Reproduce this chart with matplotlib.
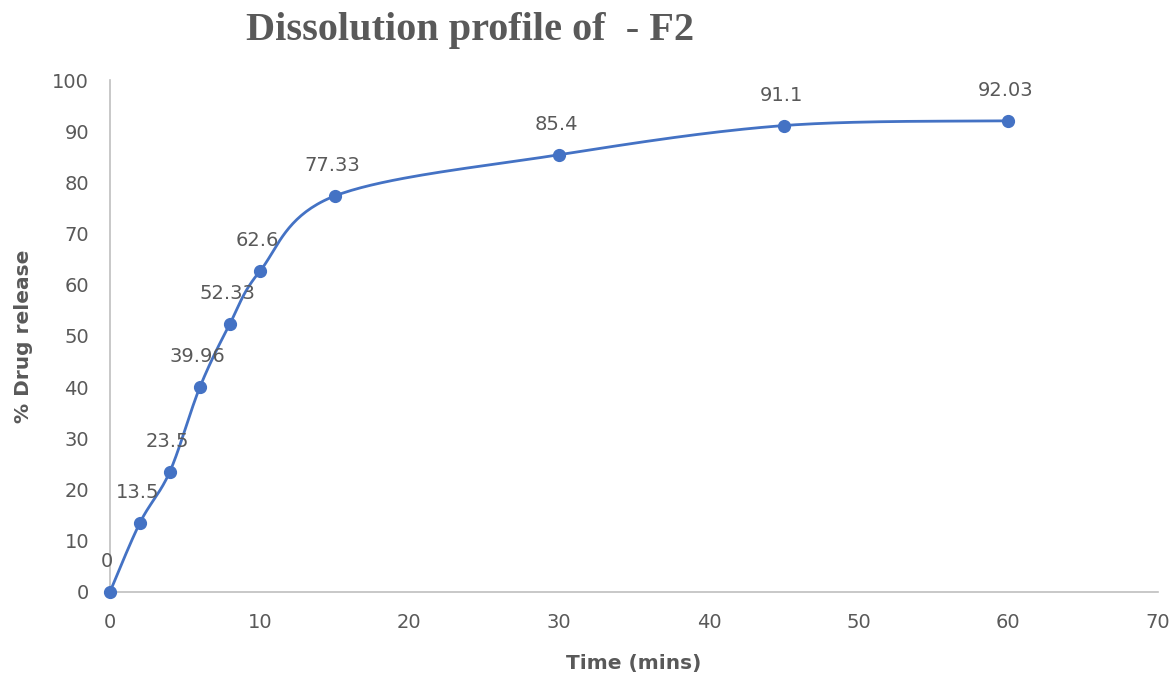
import matplotlib.pyplot as plt
import numpy as np

# Dissolution data for formulation F2
time_min = [0, 2, 4, 6, 8, 10, 15, 30, 45, 60]
release_pct = [0, 13.5, 23.5, 39.96, 52.33, 62.6, 77.33, 85.4, 91.1, 92.03]
x_ticks = [0, 10, 20, 30, 40, 50, 60, 70]
y_ticks = [0, 10, 20, 30, 40, 50, 60, 70, 80, 90, 100]

blue = '#4472C4'
grey = '#595959'

fig = plt.figure(figsize=(11.75, 6.78), dpi=100)
ax = fig.add_axes([0.0936, 0.127, 0.892, 0.755])
ax.set_xlim(0, 70)
ax.set_ylim(0, 100)


def smooth_curve(ax, xs, ys, n=40):
    # Excel-style smoothed line: cubic Bezier through points, built in display space
    pts = ax.transData.transform(np.column_stack([xs, ys]))
    p = np.vstack([pts[0], pts, pts[-1]])
    out = []
    t = np.linspace(0, 1, n)[:, None]
    for i in range(1, len(p) - 2):
        p0, p1 = p[i], p[i + 1]
        c1 = p0 + (p[i + 1] - p[i - 1]) / 6
        c2 = p1 - (p[i + 2] - p[i]) / 6
        seg = ((1 - t) ** 3) * p0 + 3 * ((1 - t) ** 2) * t * c1 \
            + 3 * (1 - t) * t ** 2 * c2 + t ** 3 * p1
        out.append(seg)
    out = np.vstack(out)
    return ax.transData.inverted().transform(out)


curve = smooth_curve(ax, time_min, release_pct)
ax.plot(curve[:, 0], curve[:, 1], color=blue, lw=2.0, zorder=2, clip_on=False)
ax.plot(time_min, release_pct, 'o', color=blue, ms=8.5, zorder=3, clip_on=False)

for x, y in zip(time_min, release_pct):
    ax.annotate(f'{y:g}', (x, y), xytext=(-2, 22), textcoords='offset points',
                ha='center', va='center', fontsize=14, color=grey,
                family='DejaVu Sans')

ax.set_xticks(x_ticks)
ax.set_yticks(y_ticks)
ax.tick_params(length=0, labelsize=14, labelcolor=grey, pad=15)
for lbl in ax.get_xticklabels() + ax.get_yticklabels():
    lbl.set_family('DejaVu Sans')

for s in ['top', 'right']:
    ax.spines[s].set_visible(False)
for s in ['left', 'bottom']:
    ax.spines[s].set_color('#BFBFBF')
    ax.spines[s].set_linewidth(1.2)

ax.set_xlabel('Time (mins)', fontsize=14.5, fontweight='bold', color=grey,
              family='DejaVu Sans', labelpad=16)
ax.set_ylabel('% Drug release', fontsize=14.5, fontweight='bold', color=grey,
              family='DejaVu Sans', labelpad=14)

fig.text(0.4, 0.955, 'Dissolution profile of  - F2', ha='center', va='center',
         fontsize=29, fontweight='bold', color=grey, family='Liberation Serif')

fig.savefig('out.png', dpi=100)
